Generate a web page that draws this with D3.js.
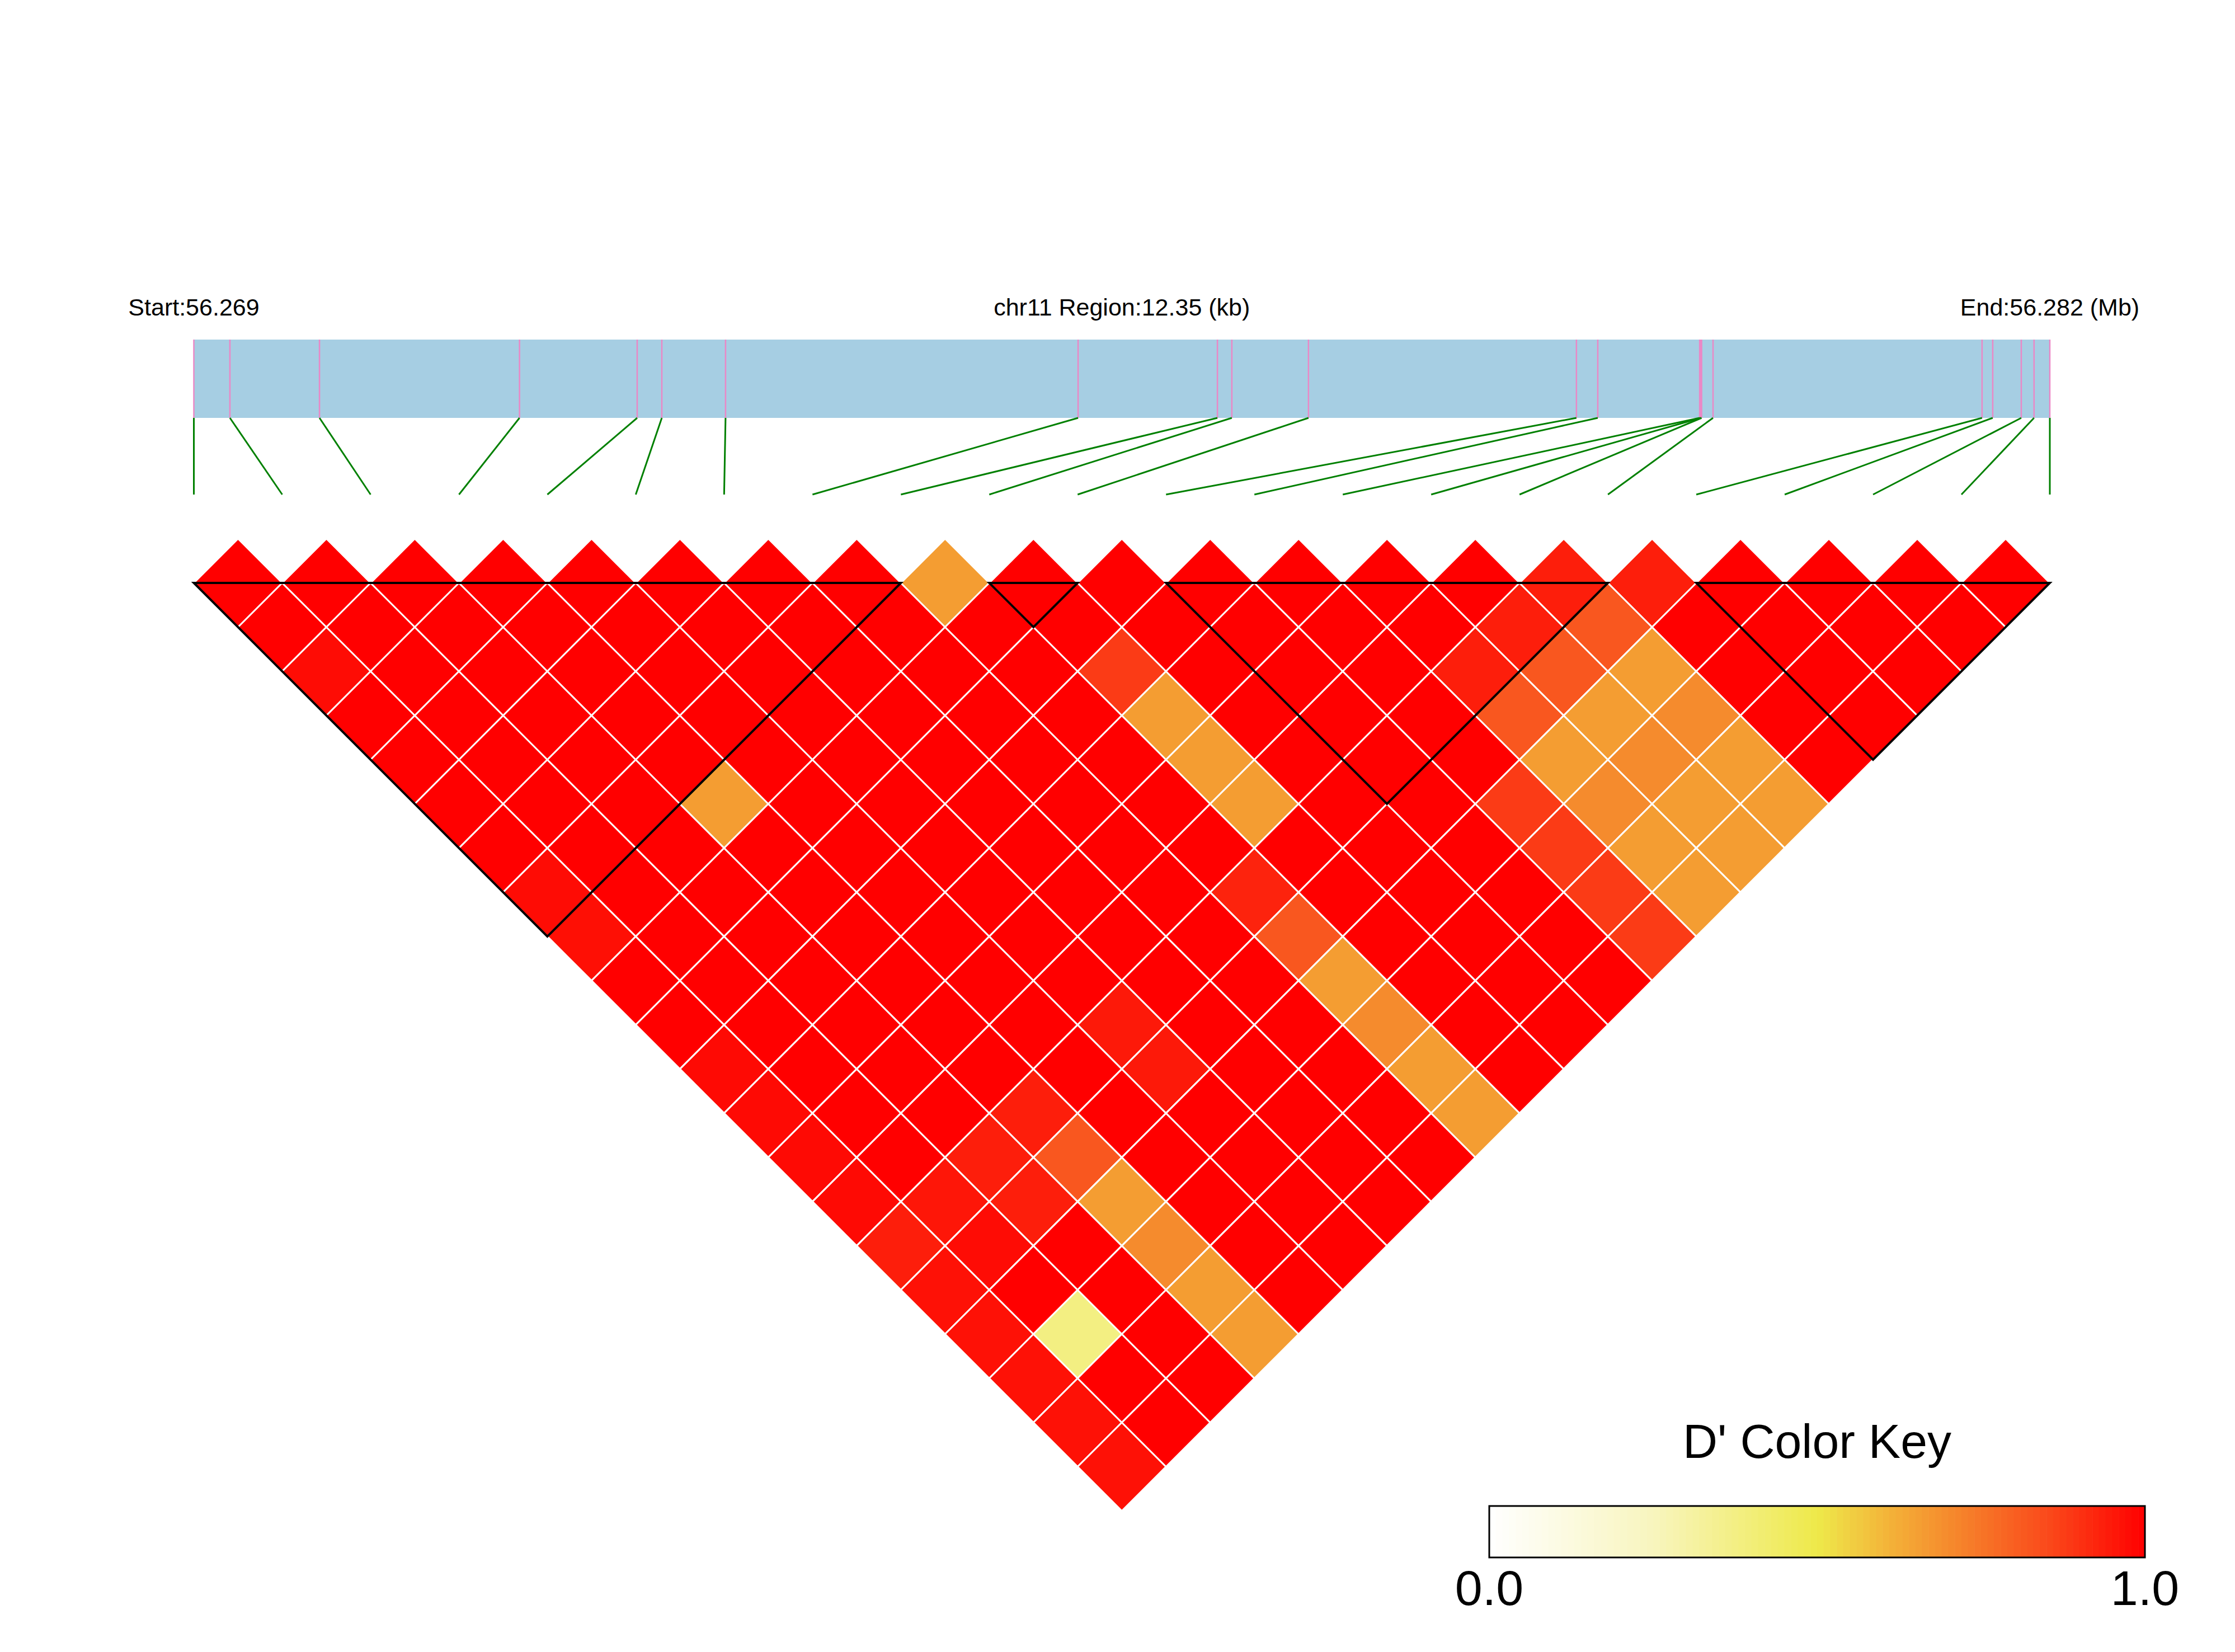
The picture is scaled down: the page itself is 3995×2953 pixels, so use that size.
<!doctype html>
<html lang="en">
<head>
	<meta charset="utf-8">
	<title>LD heatmap - chr11</title>
	<style>
html, body {
	margin: 0;
	padding: 0;
	background-color: white;
	font-family: 'Liberation Sans', Arial, sans-serif;
}
svg {
	display: block;
}
	</style>
</head>
<body>
	<div id="container"></div>

	<script src="https://cdnjs.cloudflare.com/ajax/libs/d3/7.8.5/d3.min.js"></script>
	<script>
/* DATA */

var chrom = 'chr11';

// SNP positions (bp), left to right
var snpPos = [
	56269412, 56269652, 56270248, 56271579, 56272362, 56272526, 56272950,
	56275296, 56276223, 56276319, 56276829, 56278612, 56278754, 56279432,
	56279440, 56279445, 56279521, 56281311, 56281382, 56281572, 56281657,
	56281762
];

// D' values, row i holds pairs (i, i+1) .. (i, 21)
var dprime = [
	[1, 1, 0.975, 1, 1, 1, 1, 0.975, 0.97, 1, 1, 0.98, 0.98, 0.98, 0.98, 0.94, 0.965, 0.965, 0.965, 0.965, 0.965],
	[1, 1, 1, 1, 1, 1, 1, 1, 1, 1, 1, 1, 1, 1, 0.955, 0.975, 1, 0.38, 1, 1],
	[1, 1, 1, 1, 1, 1, 1, 1, 1, 1, 1, 1, 1, 0.94, 0.94, 1, 1, 1, 1],
	[1, 1, 1, 1, 1, 0.66, 1, 1, 1, 1, 1, 1, 0.94, 0.82, 0.66, 0.70, 0.66, 0.66],
	[1, 1, 1, 1, 1, 1, 1, 1, 1, 1, 1, 1, 1, 1, 1, 1, 1],
	[1, 1, 1, 1, 1, 1, 1, 1, 1, 1, 0.95, 0.95, 1, 1, 1, 1],
	[1, 1, 1, 1, 1, 1, 1, 1, 1, 1, 1, 1, 1, 1, 1],
	[1, 1, 1, 1, 1, 1, 1, 1, 1, 1, 1, 1, 1, 1],
	[0.66, 1, 1, 1, 1, 1, 1, 0.93, 0.82, 0.66, 0.70, 0.66, 0.66],
	[1, 1, 0.88, 0.66, 0.66, 0.66, 1, 1, 1, 1, 1, 1],
	[1, 1, 1, 1, 1, 1, 1, 1, 1, 1, 1],
	[1, 1, 1, 1, 1, 1, 1, 1, 1, 1],
	[1, 1, 1, 1, 1, 0.88, 0.88, 0.88, 0.88],
	[1, 1, 0.94, 0.82, 0.66, 0.70, 0.66, 0.66],
	[1, 0.94, 0.82, 0.66, 0.70, 0.66, 0.66],
	[0.94, 0.82, 0.66, 0.70, 0.66, 0.66],
	[0.94, 1, 1, 1, 1],
	[1, 1, 1, 1],
	[1, 1, 1],
	[1, 1],
	[1]
];

// haplotype blocks, first and last SNP index
var blocks = [[0, 8], [9, 10], [11, 16], [17, 21]];

// colour key stops
var keyStops = [0, 0.25, 0.5, 0.6, 0.7, 0.85, 1];
var keyColors = ['#FFFFFF', '#F8F5BE', '#EEE94A', '#F3B73A', '#F58B2D', '#FA4A1B', '#FF0000'];
var keyLabels = ['0.0', '1.0'];

(function ldplot(d3) {

	'use strict';

	/* CONST */

	var W = 3995;
	var H = 2953;
	var LEFT = 346.5;
	var RIGHT = 3664;
	var BAR_TOP = 607;
	var BAR_BOT = 747;
	var LINK_BOT = 884;
	var BASE = 1042;
	var N = snpPos.length;

	var x = d3.scaleLinear().domain([0, N - 1]).range([LEFT, RIGHT]);
	var xg = d3.scaleLinear().domain([snpPos[0], snpPos[N - 1]]).range([LEFT, RIGHT]);
	var color = d3.scaleLinear().domain(keyStops).range(keyColors).clamp(true);
	var half = (x(1) - x(0)) / 2;

	var svg = d3.select('#container')
		.append('svg')
			.attr('width', W)
			.attr('height', H);

	svg.append('rect')
		.attr('width', W)
		.attr('height', H)
		.attr('fill', 'white');

	/* HEADER */

	var fmt = d3.format('.3f');
	var head = svg.append('g')
		.attr('font-size', 43)
		.attr('text-anchor', 'middle')
		.attr('fill', '#000');
	head.append('text')
		.attr('x', x(0)).attr('y', 564)
		.text('Start:' + fmt(snpPos[0] / 1e6));
	head.append('text')
		.attr('x', (LEFT + RIGHT) / 2).attr('y', 564)
		.text(chrom + ' Region:' + d3.format('.2f')((snpPos[N - 1] - snpPos[0]) / 1000) + ' (kb)');
	head.append('text')
		.attr('x', x(N - 1)).attr('y', 564)
		.text('End:' + fmt(snpPos[N - 1] / 1e6) + ' (Mb)');

	/* GENE BAR */

	svg.append('rect')
		.attr('x', LEFT)
		.attr('y', BAR_TOP)
		.attr('width', RIGHT - LEFT)
		.attr('height', BAR_BOT - BAR_TOP)
		.attr('fill', '#A6CEE3');

	svg.append('g').selectAll('line')
		.data(snpPos).enter()
		.append('line')
		.attr('x1', function (d) { return xg(d); })
		.attr('x2', function (d) { return xg(d); })
		.attr('y1', BAR_TOP)
		.attr('y2', BAR_BOT)
		.attr('stroke', '#EA88C6')
		.attr('stroke-width', 2.5);

	svg.append('g').selectAll('line')
		.data(snpPos).enter()
		.append('line')
		.attr('x1', function (d) { return xg(d); })
		.attr('y1', BAR_BOT)
		.attr('x2', function (d, i) { return x(i); })
		.attr('y2', LINK_BOT)
		.attr('stroke', '#008000')
		.attr('stroke-width', 3);

	/* HEATMAP */

	var cells = [];
	dprime.forEach(function (row, i) {
		row.forEach(function (v, k) {
			cells.push({ i: i, j: i + k + 1, v: v });
		});
	});

	var diamond = function (d) {
		var cx = (x(d.i) + x(d.j)) / 2;
		var cy = BASE + (d.j - d.i - 1) * half;
		return 'M' + cx + ',' + (cy - half) +
			'L' + (cx + half) + ',' + cy +
			'L' + cx + ',' + (cy + half) +
			'L' + (cx - half) + ',' + cy + 'Z';
	};

	svg.append('g').selectAll('path')
		.data(cells).enter()
		.append('path')
		.attr('d', diamond)
		.attr('fill', function (d) { return color(d.v); })
		.attr('stroke', 'white')
		.attr('stroke-width', 3);

	svg.append('g').selectAll('path')
		.data(blocks).enter()
		.append('path')
		.attr('d', function (b) {
			var a = x(b[0]);
			var c = x(b[1]);
			return 'M' + a + ',' + BASE + 'L' + c + ',' + BASE +
				'L' + ((a + c) / 2) + ',' + (BASE + (b[1] - b[0]) * half) + 'Z';
		})
		.attr('fill', 'none')
		.attr('stroke', '#000')
		.attr('stroke-width', 4)
		.attr('stroke-linejoin', 'miter');

	/* COLOR KEY */

	var KX0 = 2662, KX1 = 3834, KY0 = 2692, KY1 = 2784;
	var STEPS = 100;
	var kx = d3.scaleLinear().domain([0, 1]).range([KX0, KX1]);
	var key = svg.append('g');

	key.append('text')
		.attr('x', (KX0 + KX1) / 2)
		.attr('y', 2606)
		.attr('text-anchor', 'middle')
		.attr('font-size', 86)
		.text("D' Color Key");

	key.selectAll('rect.band')
		.data(d3.range(STEPS)).enter()
		.append('rect')
		.attr('class', 'band')
		.attr('x', function (k) { return kx(k / STEPS); })
		.attr('y', KY0)
		.attr('width', (KX1 - KX0) / STEPS + 0.6)
		.attr('height', KY1 - KY0)
		.attr('fill', function (k) { return color((k + 0.5) / STEPS); });

	key.append('rect')
		.attr('x', KX0)
		.attr('y', KY0)
		.attr('width', KX1 - KX0)
		.attr('height', KY1 - KY0)
		.attr('fill', 'none')
		.attr('stroke', '#000')
		.attr('stroke-width', 3);

	key.selectAll('text.lab')
		.data(keyLabels).enter()
		.append('text')
		.attr('class', 'lab')
		.attr('x', function (d, i) { return kx(i); })
		.attr('y', 2869)
		.attr('text-anchor', 'middle')
		.attr('font-size', 88)
		.text(function (d) { return d; });

})(window.d3);
	</script>
</body>
</html>
